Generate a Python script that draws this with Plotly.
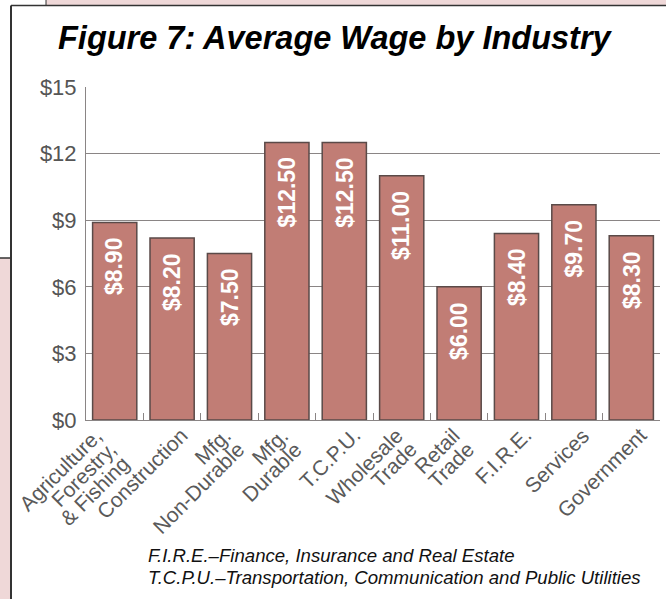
import plotly.graph_objects as go

# Industry categories and average hourly wage (dollars)
industries = ["Agriculture", "Construction", "Mfg. Non-Durable", "Mfg. Durable",
              "T.C.P.U.", "Wholesale Trade", "Retail Trade", "F.I.R.E.",
              "Services", "Government"]
label_lines = [["Agriculture,", "Forestry,", "& Fishing"], ["Construction"],
               ["Mfg.", "Non-Durable"], ["Mfg.", "Durable"], ["T.C.P.U."],
               ["Wholesale", "Trade"], ["Retail", "Trade"], ["F.I.R.E."],
               ["Services"], ["Government"]]
wages = [8.90, 8.20, 7.50, 12.50, 12.50, 11.00, 6.00, 8.40, 9.70, 8.30]
y_ticks = [0, 3, 6, 9, 12, 15]
y_tick_labels = ["$0", "$3", "$6", "$9", "$12", "$15"]
notes = ["F.I.R.E.–Finance, Insurance and Real Estate",
         "T.C.P.U.–Transportation, Communication and Public Utilities"]

W, H = 666, 599
L, R, T, B = 86, 6, 87, 179
PW, PH = W - L - R, H - T - B
FONT = "Liberation Sans, Arial, sans-serif"
PINK = "#efd8d8"
GRID = "#8a8585"


def px(xp):
    return (xp - L) / PW


def py(yp):
    return 1 - (yp - T) / PH


fig = go.Figure()
fig.add_trace(go.Bar(
    x=industries, y=wages, width=0.77,
    marker=dict(color="#c17d75", line=dict(color="#5a4a48", width=1.5)),
    hoverinfo="skip",
))

# Value labels written vertically near the top of each bar
for name, v in zip(industries, wages):
    fig.add_annotation(x=name, y=v, xref="x", yref="y", text=f"${v:.2f}",
                       textangle=-90, showarrow=False, yanchor="top",
                       yshift=-13, font=dict(family=FONT, size=23,
                                             color="white", weight="bold"))

# Slanted category labels: each line is placed separately so the block
# keeps a tight line spacing; the block's top-right corner sits by the tick.
LINE_STEP = 20 * 0.7071
for name, lines in zip(industries, label_lines):
    n = len(lines)
    for k, line in enumerate(lines):
        fig.add_annotation(x=name, xref="x", yref="paper",
                           y=py(422 + k * LINE_STEP),
                           xshift=21 - (n - 1 - k) * LINE_STEP,
                           text=line, textangle=-45, showarrow=False,
                           xanchor="right", yanchor="top", borderpad=0,
                           font=dict(family=FONT, size=21, color="#5a5a5a"))

fig.add_annotation(x=px(335), y=py(38), xref="paper", yref="paper",
                   text="<b><i>Figure 7: Average Wage by Industry</i></b>",
                   showarrow=False, xanchor="center", yanchor="middle",
                   font=dict(family=FONT, size=32.5, color="black"))

for k, note in enumerate(notes):
    fig.add_annotation(x=px(146), y=py(555 + k * 22), xref="paper", yref="paper",
                       text=f"<i>{note}</i>", showarrow=False,
                       xanchor="left", yanchor="middle",
                       font=dict(family=FONT, size=18.6, color="#111"))

# Page frame pieces around the figure
frame = dict(xref="paper", yref="paper")
shapes = [
    dict(type="rect", x0=px(46), x1=px(670), y0=py(-5), y1=py(5.5),
         fillcolor=PINK, line=dict(width=0), **frame),
    dict(type="rect", x0=px(-5), x1=px(11), y0=py(258), y1=py(605),
         fillcolor=PINK, line=dict(width=0), **frame),
    dict(type="line", x0=px(46), x1=px(46), y0=py(-2), y1=py(5.5),
         line=dict(color="#333", width=1), **frame),
    dict(type="line", x0=px(11), x1=px(670), y0=py(5.5), y1=py(5.5),
         line=dict(color="#333", width=1.5), **frame),
    dict(type="line", x0=px(11), x1=px(11), y0=py(5.5), y1=py(605),
         line=dict(color="#333", width=2), **frame),
    dict(type="line", x0=px(-5), x1=px(11), y0=py(258), y1=py(258),
         line=dict(color="#333", width=1.5), **frame),
]

fig.update_layout(
    width=W, height=H, margin=dict(l=L, r=R, t=T, b=B),
    paper_bgcolor="white", plot_bgcolor="white",
    showlegend=False, shapes=shapes,
    font=dict(family=FONT),
)
fig.update_yaxes(range=[0, 15], tickvals=y_ticks, ticktext=y_tick_labels,
                 showgrid=True, gridcolor=GRID, gridwidth=1,
                 showline=True, linecolor=GRID, linewidth=1,
                 ticks="", zeroline=False, ticklabelstandoff=4,
                 tickfont=dict(family=FONT, size=22, color="#555"))
fig.update_xaxes(range=[-0.5, len(industries) - 0.5],
                 tickvals=industries, showticklabels=False,
                 showline=True, linecolor=GRID, linewidth=1,
                 ticks="inside", tickson="boundaries", ticklen=7,
                 tickcolor=GRID, showgrid=False)

fig.write_html("out.html")
